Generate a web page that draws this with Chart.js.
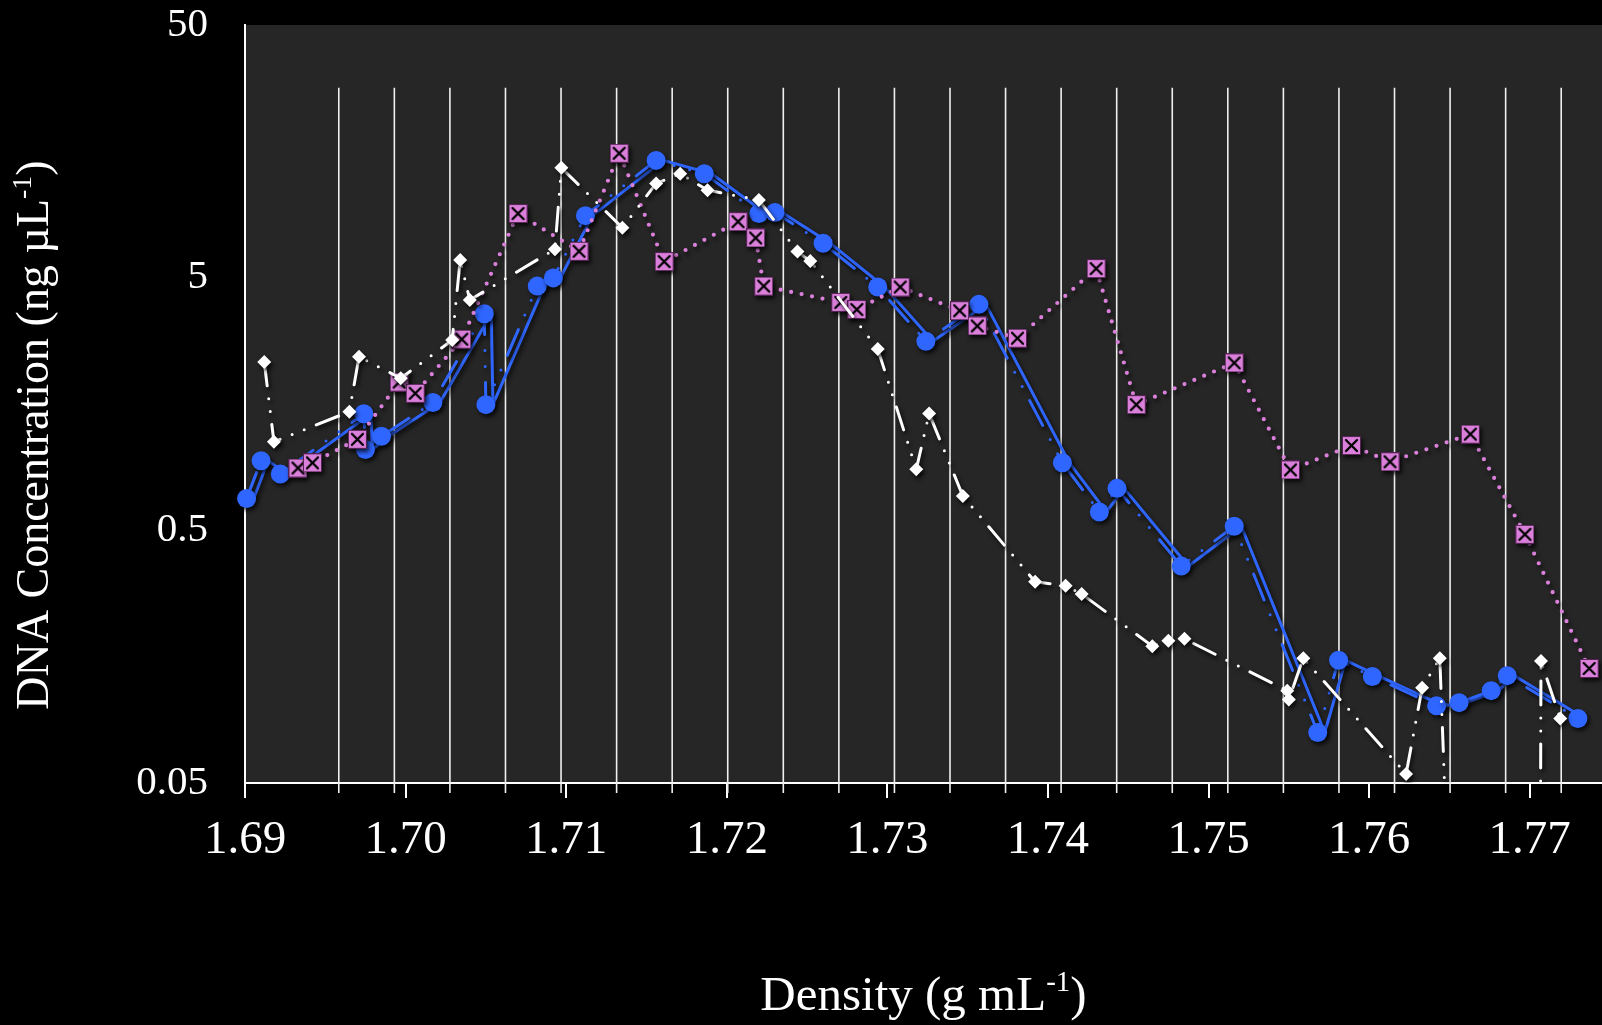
<!DOCTYPE html>
<html>
<head>
<meta charset="utf-8">
<script src="https://cdn.jsdelivr.net/npm/chart.js@4.4.1/dist/chart.umd.min.js"></script>
<style>
html,body{margin:0;padding:0;background:#000;}
canvas{display:block;}
</style>
</head>
<body>
<canvas id="c" width="1602" height="1025"></canvas>
<script>
// ---- tick labels ----
const xTickValues = [1.69, 1.70, 1.71, 1.72, 1.73, 1.74, 1.75, 1.76, 1.77];
const xTickLabels = ['1.69', '1.70', '1.71', '1.72', '1.73', '1.74', '1.75', '1.76', '1.77'];
const yTickValues = [0.05, 0.5, 5, 50];
const yTickLabels = ['0.05', '0.5', '5', '50'];

// ---- fraction boundaries (vertical white lines) ----
const fractionLines = [1.69584, 1.69930, 1.70276, 1.70622, 1.70968, 1.71314, 1.71660, 1.72006,
  1.72352, 1.72698, 1.73044, 1.73390, 1.73736, 1.74082, 1.74428, 1.74774, 1.75120, 1.75466,
  1.75812, 1.76158, 1.76504, 1.76850, 1.77196];

// ---- series: blue circles ----
const blueDensity = [1.6901, 1.6910, 1.6922, 1.6974, 1.6975, 1.6985, 1.7017, 1.7049, 1.7050, 1.7082,
  1.7092, 1.7112, 1.7156, 1.7186, 1.7220, 1.7230, 1.7260, 1.7294, 1.7324, 1.7357, 1.7409, 1.7432,
  1.7443, 1.7483, 1.7516, 1.7568, 1.7581, 1.7602, 1.7642, 1.7656, 1.7676, 1.7686, 1.7730];
const blueConc = [0.668, 0.942, 0.836, 1.446, 1.044, 1.178, 1.603, 3.60, 1.572, 4.63,
  4.99, 8.80, 14.56, 12.90, 8.97, 9.06, 6.84, 4.59, 2.80, 3.92, 0.925, 0.591,
  0.733, 0.361, 0.519, 0.0792, 0.153, 0.132, 0.101, 0.104, 0.116, 0.133, 0.090];

// ---- series: pink boxed crosses ----
const pinkDensity = [1.6933, 1.6942, 1.6970, 1.6996, 1.7006, 1.7035, 1.7070, 1.7108, 1.7133, 1.7161,
  1.7207, 1.7218, 1.7223, 1.7271, 1.7281, 1.7308, 1.7345, 1.7356, 1.7381, 1.7430, 1.7455, 1.7516,
  1.7551, 1.7589, 1.7613, 1.7663, 1.7697, 1.7737];
const pinkConc = [0.882, 0.925, 1.146, 1.930, 1.742, 2.854, 8.97, 6.36, 15.53, 5.79,
  8.33, 7.18, 4.63, 3.99, 3.74, 4.59, 3.70, 3.22, 2.88, 5.43, 1.572, 2.30,
  0.867, 1.083, 0.934, 1.201, 0.482, 0.142];

// ---- series: white diamonds ----
const whiteDensity = [1.6912, 1.6918, 1.6965, 1.6971, 1.6997, 1.7029, 1.7034, 1.7040, 1.7093, 1.7097,
  1.7135, 1.7156, 1.7171, 1.7188, 1.7220, 1.7244, 1.7252, 1.7294, 1.7318, 1.7326, 1.7347, 1.7392,
  1.7411, 1.7421, 1.7465, 1.7475, 1.7485, 1.7549, 1.7550, 1.7559, 1.7623, 1.7633, 1.7644, 1.7657,
  1.7706, 1.7707, 1.7719];
const whiteConc = [2.32, 1.121, 1.474, 2.43, 2.00, 2.83, 5.87, 4.08, 6.48, 13.6,
  7.88, 11.8, 12.9, 11.1, 10.15, 6.34, 5.82, 2.61, 0.872, 1.45, 0.684, 0.313,
  0.302, 0.280, 0.174, 0.183, 0.186, 0.116, 0.107, 0.156, 0.0543, 0.119, 0.156, 0.001,
  0.001, 0.152, 0.090];

const xTitle = ['Density (g mL', '-1', ')'];
const yTitle = ['DNA Concentration (ng \u00B5L', '-1', ')'];

// ---------------------------------------------------------------
const BLUE = '#2F66FF';
const PINK = '#DA80DA';
const SERIF = '"Liberation Serif", "Times New Roman", serif';

function pts(xs, ys) { return xs.map((x, i) => ({ x: x, y: ys[i] })); }

function makeBoxX(size) {
  const c = document.createElement('canvas');
  c.width = size; c.height = size;
  const g = c.getContext('2d');
  g.fillStyle = PINK; g.fillRect(0, 0, size, size);
  g.strokeStyle = 'rgba(70,25,70,0.9)'; g.lineWidth = 1;
  g.strokeRect(0.5, 0.5, size - 1, size - 1);
  g.strokeStyle = '#000'; g.lineWidth = 2.3; g.lineCap = 'round';
  g.beginPath();
  g.moveTo(4, 4); g.lineTo(size - 4, size - 4);
  g.moveTo(size - 4, 4); g.lineTo(4, size - 4);
  g.stroke();
  return c;
}
const boxX = makeBoxX(19);

const CLIP = { left: 20, top: 20, right: 20, bottom: 0 };

function drawSupText(ctx, parts, size) {
  const big = size + 'px ' + SERIF;
  const small = Math.round(size * 0.6) + 'px ' + SERIF;
  ctx.font = big; const w0 = ctx.measureText(parts[0]).width;
  ctx.font = small; const w1 = ctx.measureText(parts[1]).width;
  ctx.font = big; const w2 = ctx.measureText(parts[2]).width;
  let x = -(w0 + w1 + w2) / 2;
  ctx.textAlign = 'left'; ctx.textBaseline = 'alphabetic';
  ctx.font = big; ctx.fillText(parts[0], x, 0); x += w0;
  ctx.font = small; ctx.fillText(parts[1], x, -size * 0.38); x += w1;
  ctx.font = big; ctx.fillText(parts[2], x, 0);
}

const chartDecor = {
  id: 'chartDecor',
  beforeDraw(chart) {
    const { ctx, chartArea: a } = chart;
    ctx.save();
    ctx.fillStyle = '#262626';
    ctx.fillRect(a.left, a.top, a.right - a.left, a.bottom - a.top);
    ctx.restore();
  },
  beforeDatasetsDraw(chart) {
    const { ctx, chartArea: a, scales } = chart;
    const top = scales.y.getPixelForValue(28.2);
    ctx.save();
    ctx.strokeStyle = '#f0f0f0';
    ctx.lineWidth = 1.6;
    fractionLines.forEach(v => {
      const x = scales.x.getPixelForValue(v);
      ctx.beginPath();
      ctx.moveTo(x, top);
      ctx.lineTo(x, a.bottom + 10);
      ctx.stroke();
    });
    ctx.restore();
  },
  beforeDatasetDraw(chart, args) {
    const ds = chart.data.datasets[args.index];
    const ctx = chart.ctx;
    ctx.save();
    if (ds.pixelShift) ctx.translate(ds.pixelShift[0], ds.pixelShift[1]);
    ctx.shadowColor = 'rgba(0,0,0,0.75)';
    ctx.shadowBlur = 4;
    ctx.shadowOffsetX = 2;
    ctx.shadowOffsetY = 3;
  },
  afterDatasetDraw(chart) {
    chart.ctx.restore();
  },
  afterDraw(chart) {
    const ctx = chart.ctx;
    ctx.save();
    ctx.fillStyle = '#ffffff';
    ctx.save();
    ctx.translate((chart.chartArea.left + chart.chartArea.right) / 2, 1010);
    drawSupText(ctx, xTitle, 49);
    ctx.restore();
    ctx.save();
    ctx.translate(48, 435);
    ctx.rotate(-Math.PI / 2);
    drawSupText(ctx, yTitle, 46);
    ctx.restore();
    ctx.restore();
  }
};

new Chart(document.getElementById('c'), {
  type: 'line',
  data: {
    datasets: [
      {
        label: 'white',
        data: pts(whiteDensity, whiteConc),
        order: 1,
        borderColor: '#ffffff',
        borderWidth: 3,
        borderDash: [24, 13, 0, 13, 0, 13],
        borderCapStyle: 'round',
        pointStyle: 'rectRot',
        pointRadius: 7,
        pointBackgroundColor: '#ffffff',
        pointBorderWidth: 0,
        clip: CLIP
      },
      {
        label: 'pink',
        data: pts(pinkDensity, pinkConc),
        order: 2,
        borderColor: PINK,
        borderWidth: 4.2,
        borderDash: [0, 10.7],
        borderCapStyle: 'round',
        pointStyle: boxX,
        pointRadius: 9,
        clip: CLIP
      },
      {
        label: 'blue',
        data: pts(blueDensity, blueConc),
        order: 3,
        borderColor: BLUE,
        borderWidth: 3,
        borderDash: [28, 16, 0, 16, 0, 16],
        borderCapStyle: 'round',
        pointStyle: 'circle',
        pointRadius: 9.5,
        pointBackgroundColor: BLUE,
        pointBorderWidth: 0,
        clip: CLIP
      },
      {
        label: 'blue line',
        data: pts(blueDensity, blueConc),
        order: 4,
        pixelShift: [7, 0],
        borderColor: BLUE,
        borderWidth: 3,
        pointRadius: 0,
        clip: CLIP
      }
    ]
  },
  options: {
    responsive: false,
    animation: false,
    devicePixelRatio: 1,
    layout: { autoPadding: false, padding: { top: 25, left: 0, right: 0, bottom: 0 } },
    plugins: { legend: { display: false }, tooltip: { enabled: false } },
    scales: {
      x: {
        type: 'linear',
        min: 1.69,
        max: 1.7745,
        afterBuildTicks: s => { s.ticks = xTickValues.map(v => ({ value: v })); },
        afterFit: s => { s.height = 242; s.paddingLeft = 0; s.paddingRight = 0; },
        ticks: {
          autoSkip: false,
          maxRotation: 0,
          color: '#ffffff',
          padding: 14,
          font: { family: SERIF, size: 47 },
          callback: (v, i) => xTickLabels[i]
        },
        grid: { drawOnChartArea: false, color: '#ffffff', lineWidth: 2, tickLength: 15 },
        border: { display: true, color: '#ffffff', width: 2 }
      },
      y: {
        type: 'logarithmic',
        min: 0.05,
        max: 50,
        afterBuildTicks: s => { s.ticks = yTickValues.map(v => ({ value: v })); },
        afterFit: s => { s.width = 245; s.paddingTop = 0; s.paddingBottom = 0; },
        ticks: {
          autoSkip: false,
          color: '#ffffff',
          padding: 37,
          font: { family: SERIF, size: 41 },
          callback: (v, i) => yTickLabels[i]
        },
        grid: { display: false, drawTicks: false },
        border: { display: true, color: '#ffffff', width: 2 }
      }
    }
  },
  plugins: [chartDecor]
});
</script>
</body>
</html>
